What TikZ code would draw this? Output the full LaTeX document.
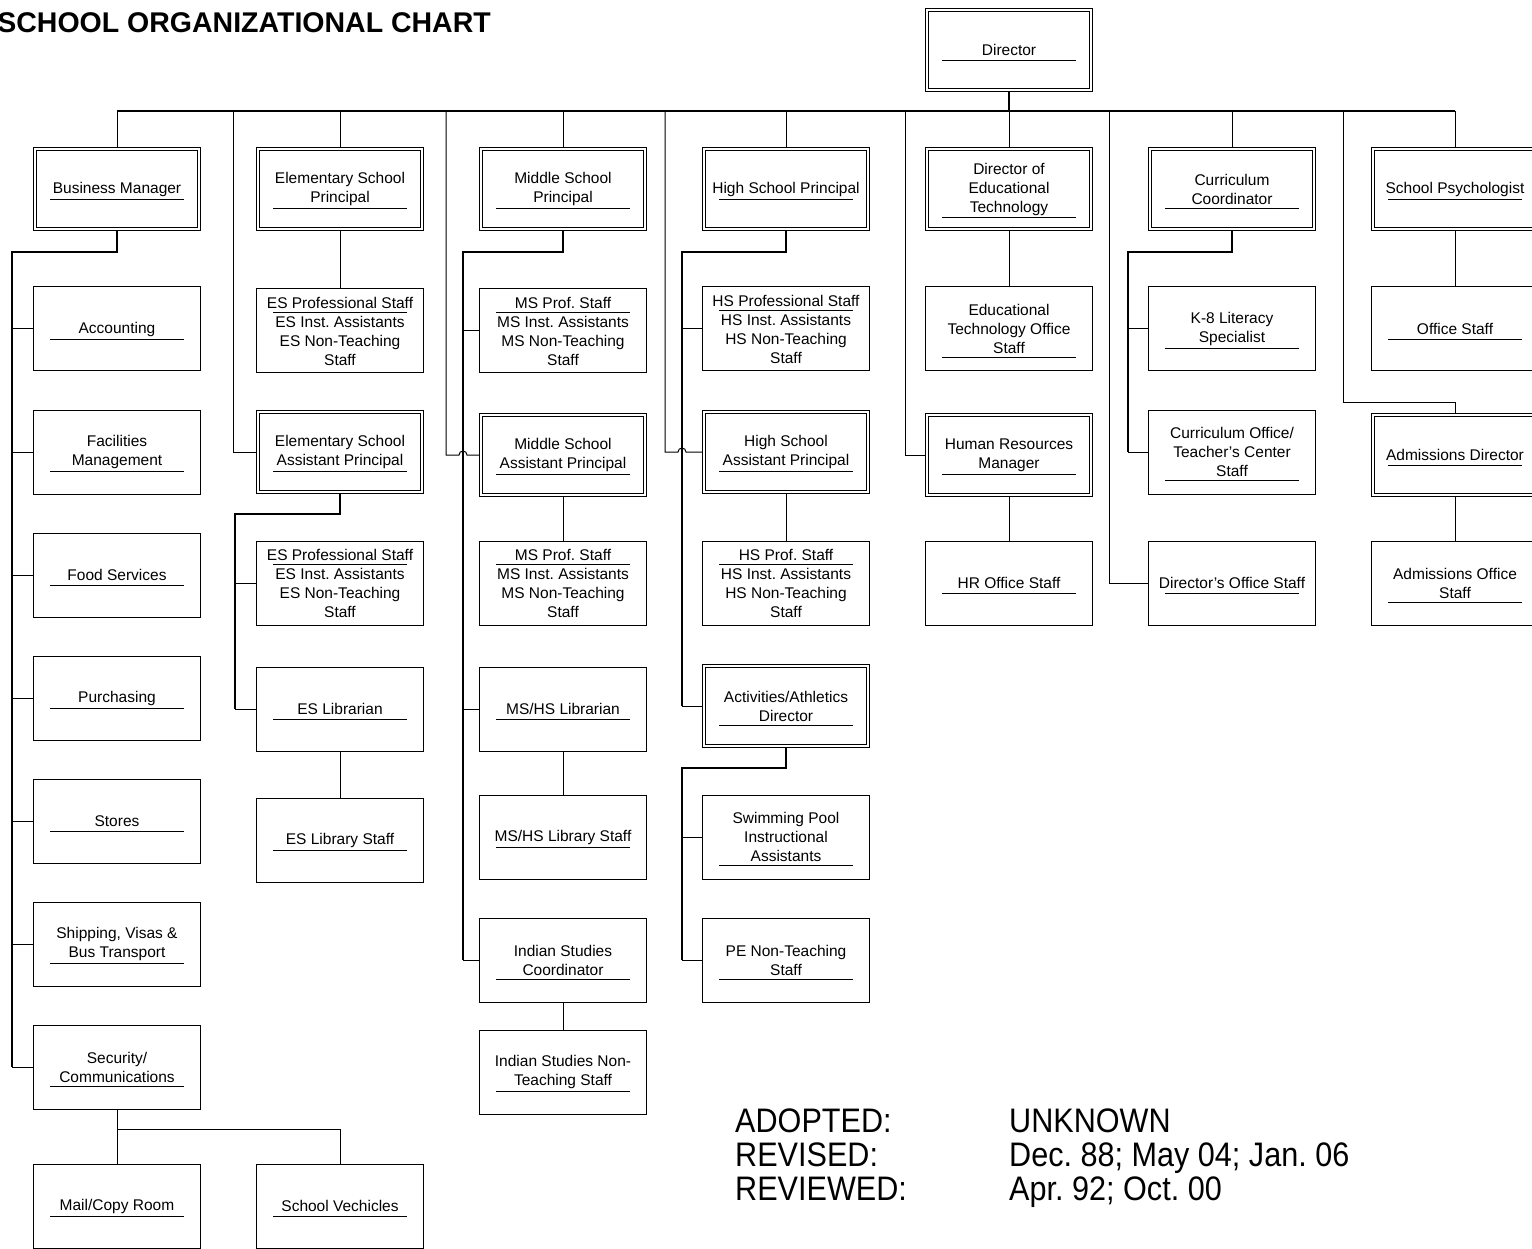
\documentclass[tikz,border=0pt]{standalone}
\usepackage{fontspec}
\setmainfont{Liberation Sans}
\newfontfamily\notefamily[FakeStretch=0.9]{Liberation Sans}
\usetikzlibrary{positioning}

\newcommand{\orgfont}{\fontsize{15.5}{19}\selectfont}
\frenchspacing

\begin{document}
\begin{tikzpicture}[
    x=1pt, y=-1pt,
    box/.style={draw, line width=1pt, minimum width=167pt, minimum height=84pt, inner sep=0pt, outer sep=0.5pt, align=center, font=\orgfont},
    dbox/.style={box, double, double distance=2.2pt, line width=0.9pt, minimum width=163.5pt, minimum height=80.5pt, outer sep=2pt},
    uline/.style={draw, line width=0.9pt},
    ul/.style={append after command={([shift={(-67,#1)}]\tikzlastnode.center) edge[uline] ([shift={(67,#1)}]\tikzlastnode.center)}},
    conn/.style={draw, line width=1pt},
    trunk/.style={draw, line width=1.8pt},
    busline/.style={draw, line width=1.3pt}
  ]

  \useasboundingbox (0,0) rectangle (1532,1249);

  % Title
  \node[anchor=base east, inner sep=0pt, font=\fontsize{28.5}{32}\selectfont\bfseries] (title) at (491,33) {SCHOOL ORGANIZATIONAL CHART};

  % Top level
  \node[dbox, ul=10] (dir) at (1009,50) {Director};
  \node[dbox, ul=10] (bm) at (117,189) {Business Manager};
  \node[dbox, ul=19] (esp) at (340,189) {Elementary School\\Principal};
  \node[dbox, ul=19] (msp) at (563,189) {Middle School\\Principal};
  \node[dbox, ul=10] (hsp) at (786,189) {High School Principal};
  \node[dbox, ul=28.5] (det) at (1009,189) {Director of\\Educational\\Technology};
  \node[dbox, ul=19] (cc) at (1232,189) {Curriculum\\Coordinator};
  \node[dbox, ul=10] (sp) at (1455,189) {School Psychologist};

  % Business column
  \node[box, ul=10] (acc) at (117,329) {Accounting};
  \node[box, ul=19] (fac) at (117,452) {Facilities\\Management};
  \node[box, ul=10] (food) at (117,575) {Food Services};
  \node[box, ul=10] (pur) at (117,698) {Purchasing};
  \node[box, ul=10] (sto) at (117,821) {Stores};
  \node[box, ul=19] (shp) at (117,944) {Shipping, Visas \&\\Bus Transport};
  \node[box, ul=19] (sec) at (117,1067) {Security/\\Communications};
  \node[box, ul=10] (mail) at (117,1206) {Mail/Copy Room};
  \node[box, ul=10] (veh) at (340,1206) {School Vechicles};

  % Elementary column
  \node[box, ul=-19] (ess1) at (340,331) {ES Professional Staff\\ES Inst. Assistants\\ES Non-Teaching\\Staff};
  \node[dbox, ul=19] (esap) at (340,452) {Elementary School\\Assistant Principal};
  \node[box, ul=-19] (ess2) at (340,583) {ES Professional Staff\\ES Inst. Assistants\\ES Non-Teaching\\Staff};
  \node[box, ul=10] (eslib) at (340,709) {ES Librarian};
  \node[box, ul=10] (eslibs) at (340,840) {ES Library Staff};

  % Middle column
  \node[box, ul=-19] (mss1) at (563,331) {MS Prof. Staff\\MS Inst. Assistants\\MS Non-Teaching\\Staff};
  \node[dbox, ul=19] (msap) at (563,455) {Middle School\\Assistant Principal};
  \node[box, ul=-19] (mss2) at (563,583) {MS Prof. Staff\\MS Inst. Assistants\\MS Non-Teaching\\Staff};
  \node[box, ul=10] (mslib) at (563,709) {MS/HS Librarian};
  \node[box, ul=10] (mslibs) at (563,837) {MS/HS Library Staff};
  \node[box, ul=19] (isc) at (563,960) {Indian Studies\\Coordinator};
  \node[box, ul=19] (isn) at (563,1072) {Indian Studies Non-\\Teaching Staff};

  % High column
  \node[box, ul=-19] (hss1) at (786,329) {HS Professional Staff\\HS Inst. Assistants\\HS Non-Teaching\\Staff};
  \node[dbox, ul=19] (hsap) at (786,452) {High School\\Assistant Principal};
  \node[box, ul=-19] (hss2) at (786,583) {HS Prof. Staff\\HS Inst. Assistants\\HS Non-Teaching\\Staff};
  \node[dbox, ul=19] (act) at (786,706) {Activities/Athletics\\Director};
  \node[box, ul=28.5] (swim) at (786,837) {Swimming Pool\\Instructional\\Assistants};
  \node[box, ul=19] (pe) at (786,960) {PE Non-Teaching\\Staff};

  % Ed tech / HR column
  \node[box, ul=28.5] (eto) at (1009,329) {Educational\\Technology Office\\Staff};
  \node[dbox, ul=19] (hr) at (1009,455) {Human Resources\\Manager};
  \node[box, ul=10] (hro) at (1009,583) {HR Office Staff};

  % Curriculum column
  \node[box, ul=19] (k8) at (1232,329) {K-8 Literacy\\Specialist};
  \node[box, ul=28.5] (cuo) at (1232,452) {Curriculum Office/\\Teacher's Center\\Staff};
  \node[box, ul=10] (dos) at (1232,583) {Director's Office Staff};

  % Psychologist / admissions column
  \node[box, ul=10] (ofs) at (1455,329) {Office Staff};
  \node[dbox, ul=10] (adm) at (1455,455) {Admissions Director};
  \node[box, ul=19] (ados) at (1455,583) {Admissions Office\\Staff};

  % Main bus
  \coordinate (bus) at (1009,111);
  \coordinate (esdrop) at (233,111);
  \coordinate (msdrop) at (446,111);
  \coordinate (hsdrop) at (665,111);
  \coordinate (hrdrop) at (905,111);
  \coordinate (dodrop) at (1109,111);
  \coordinate (addrop) at (1343,111);
  \draw[trunk] (dir.south) -- (bus);
  \draw[busline] (bm.north |- bus) -- (sp.north |- bus);
  \foreach \n in {bm,esp,msp,hsp,det,cc,sp}
    \draw[conn] (\n.north |- bus) -- (\n.north);

  % Side drops from the bus
  \draw[conn] (esdrop) |- (esap.west);
  \draw[conn] (msdrop) |- (459,455) arc[start angle=180, end angle=0, radius=4pt] -- (msap.west);
  \draw[conn] (hsdrop) |- (678,452) arc[start angle=180, end angle=0, radius=4pt] -- (hsap.west);
  \draw[conn] (hrdrop) |- (hr.west);
  \draw[conn] (dodrop) |- (dos.west);
  \draw[conn] (addrop) -- ++(0,291) -| (adm.north);

  % Business trunk
  \coordinate (bmtr) at (12,252);
  \draw[trunk] (bm.south) |- (bmtr) -- (bmtr |- sec.west);
  \foreach \n in {acc,fac,food,pur,sto,shp,sec}
    \draw[conn] (bmtr |- \n.west) -- (\n.west);
  \draw[conn] (sec.south) -- (mail.north);
  \draw[conn] (sec.south) -- ++(0,20) -| (veh.north);

  % Elementary links
  \coordinate (estr) at (235,514);
  \draw[conn] (esp.south) -- (ess1.north);
  \draw[trunk] (esap.south) |- (estr) -- (estr |- eslib.west);
  \foreach \n in {ess2,eslib}
    \draw[conn] (estr |- \n.west) -- (\n.west);
  \draw[conn] (eslib.south) -- (eslibs.north);

  % Middle links
  \coordinate (mstr) at (463,252);
  \draw[trunk] (msp.south) |- (mstr) -- (mstr |- isc.west);
  \foreach \n in {mss1,mslib,isc}
    \draw[conn] (mstr |- \n.west) -- (\n.west);
  \draw[conn] (msap.south) -- (mss2.north);
  \draw[conn] (mslib.south) -- (mslibs.north);
  \draw[conn] (isc.south) -- (isn.north);

  % High links
  \coordinate (hstr) at (682,252);
  \coordinate (actr) at (682,768);
  \draw[trunk] (hsp.south) |- (hstr) -- (hstr |- act.west);
  \foreach \n in {hss1,act}
    \draw[conn] (hstr |- \n.west) -- (\n.west);
  \draw[conn] (hsap.south) -- (hss2.north);
  \draw[trunk] (act.south) |- (actr) -- (actr |- pe.west);
  \foreach \n in {swim,pe}
    \draw[conn] (actr |- \n.west) -- (\n.west);

  % Other links
  \coordinate (cctr) at (1128,252);
  \draw[conn] (det.south) -- (eto.north);
  \draw[conn] (hr.south) -- (hro.north);
  \draw[trunk] (cc.south) |- (cctr) -- (cctr |- cuo.west);
  \foreach \n in {k8,cuo}
    \draw[conn] (cctr |- \n.west) -- (\n.west);
  \draw[conn] (sp.south) -- (ofs.north);
  \draw[conn] (adm.south) -- (ados.north);

  % Dates
  \begin{scope}[every node/.style={anchor=base west, inner sep=0pt, font=\notefamily\fontsize{34}{38}\selectfont}]
    \node (adopted) at (735,1132) {ADOPTED:};
    \node (revised) at (735,1166) {REVISED:};
    \node (reviewed) at (735,1200) {REVIEWED:};
    \node (adoptedv) at (1009,1132) {UNKNOWN};
    \node (revisedv) at (1009,1166) {Dec. 88; May 04; Jan. 06};
    \node (reviewedv) at (1009,1200) {Apr. 92; Oct. 00};
  \end{scope}

\end{tikzpicture}
\end{document}
